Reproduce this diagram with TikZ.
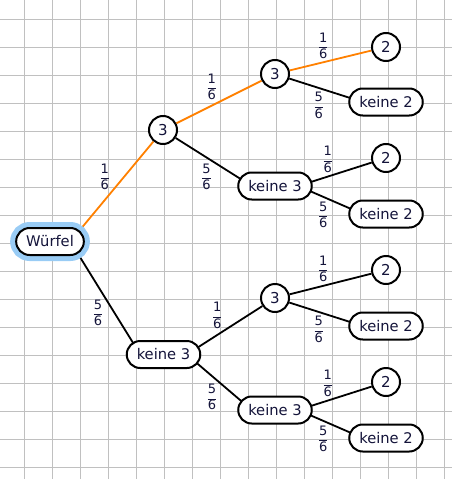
\documentclass[tikz,border=0pt]{standalone}
\usepackage{fontspec}
\setmainfont{DejaVu Sans}
\usetikzlibrary{positioning,calc,backgrounds}
\definecolor{gGrid}{HTML}{C0C0C0}
\definecolor{gOrange}{HTML}{FF8000}
\definecolor{gHalo}{HTML}{99CCF5}
\definecolor{gInk}{HTML}{14143A}

\newcommand{\sechstel}[1]{$\displaystyle\frac{\mbox{#1}}{\mbox{6}}$}

\tikzset{
  knot/.style={draw=black, fill=white, line width=2pt, circle, minimum size=28pt, inner sep=0pt,
    text=gInk, font=\fontsize{15}{17}\selectfont},
  pill/.style={draw=black, fill=white, line width=2pt, rounded corners=13.5pt, minimum height=27pt,
    inner xsep=10pt, inner ysep=0pt, text=gInk, font=\fontsize{14.7}{17}\selectfont},
  root/.style={pill, preaction={draw=gHalo, line width=12pt}},
  ast/.style={draw=black, line width=1.8pt},
  hot/.style={ast, draw=gOrange},
  prob/.style={text=gInk, inner sep=1pt, font=\fontsize{13}{15}\selectfont}
}

\begin{document}
\begin{tikzpicture}[x=1pt, y=-1pt]
  \useasboundingbox (0,0) rectangle (452,479);

  % Baum
  \node[root] (w) at (50,241.5) {Würfel};
  \node[knot] (a) at (163,130) {3};
  \node[pill] (b) at (163.5,354.5) {keine 3};

  \node[knot] (aa) at (275,74) {3};
  \node[pill] (ab) at (275,186) {keine 3};
  \node[knot] (ba) at (275,298) {3};
  \node[pill] (bb) at (275,410) {keine 3};

  \node[knot] (aaa) at (386,47) {2};
  \node[pill] (aab) at (386,102) {keine 2};
  \node[knot] (aba) at (386,158) {2};
  \node[pill] (abb) at (386,214) {keine 2};
  \node[knot] (baa) at (386,270) {2};
  \node[pill] (bab) at (386,326) {keine 2};
  \node[knot] (bba) at (386,382) {2};
  \node[pill] (bbb) at (386,438) {keine 2};

  \begin{scope}[on background layer]
    % Kaestchen
    \foreach \gx in {0,...,15}
      \draw[gGrid, line width=1pt] (24.3+28*\gx,0) -- (24.3+28*\gx,479);
    \foreach \gy in {0,...,16}
      \draw[gGrid, line width=1pt] (0,19.3+28*\gy) -- (452,19.3+28*\gy);

    % Pfade
    \draw[hot] ($(w.east)+(-14.5,0)$) -- node[prob, above left] {\sechstel{1}} (a);
    \draw[ast] ($(w.east)+(-14.5,0)$) -- node[prob, below left] {\sechstel{5}} ($(b.west)+(14.5,0)$);

    \draw[hot] (a) -- node[prob, above left] {\sechstel{1}} (aa);
    \draw[ast] (a) -- node[prob, below left] {\sechstel{5}} ($(ab.west)+(14.5,0)$);
    \draw[ast] ($(b.east)+(-14.5,0)$) -- node[prob, above left] {\sechstel{1}} (ba);
    \draw[ast] ($(b.east)+(-14.5,0)$) -- node[prob, below left] {\sechstel{5}} ($(bb.west)+(14.5,0)$);

    \draw[hot] (aa) -- node[prob, above left] {\sechstel{1}} (aaa);
    \draw[ast] (aa) -- node[prob, below left] {\sechstel{5}} ($(aab.west)+(14.5,0)$);
    \draw[ast] ($(ab.east)+(-14.5,0)$) -- node[prob, above left] {\sechstel{1}} (aba);
    \draw[ast] ($(ab.east)+(-14.5,0)$) -- node[prob, below left] {\sechstel{5}} ($(abb.west)+(14.5,0)$);
    \draw[ast] (ba) -- node[prob, above left] {\sechstel{1}} (baa);
    \draw[ast] (ba) -- node[prob, below left] {\sechstel{5}} ($(bab.west)+(14.5,0)$);
    \draw[ast] ($(bb.east)+(-14.5,0)$) -- node[prob, above left] {\sechstel{1}} (bba);
    \draw[ast] ($(bb.east)+(-14.5,0)$) -- node[prob, below left] {\sechstel{5}} ($(bbb.west)+(14.5,0)$);
  \end{scope}
\end{tikzpicture}
\end{document}
